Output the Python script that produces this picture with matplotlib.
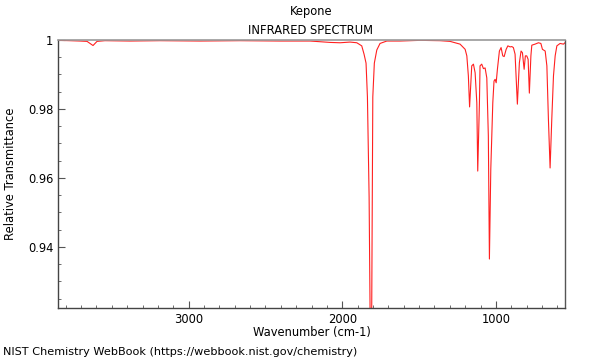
import numpy as np
import matplotlib
matplotlib.use('Agg')
import matplotlib.pyplot as plt
from matplotlib.ticker import MultipleLocator, FuncFormatter

# spectrum (wavenumber cm-1, relative transmittance)
wavenumber = [3850, 3772, 3707, 3661, 3622, 3596, 3544, 3381, 3186, 2925, 2665, 2405,
              2209, 2079, 2014, 1949, 1905, 1873, 1858, 1845, 1836, 1825, 1819, 1814,
              1808, 1801, 1791, 1775, 1754, 1710, 1623, 1493, 1363, 1298, 1233, 1200,
              1189, 1179, 1171, 1157, 1146, 1135, 1124, 1118, 1107, 1103, 1092, 1081,
              1070, 1059, 1049, 1042, 1033, 1020, 1012, 1005, 998, 990, 977, 966,
              955, 946, 933, 922, 907, 896, 886, 875, 860, 847, 836, 827,
              816, 808, 799, 790, 782, 772, 766, 745, 723, 707, 697, 679,
              668, 658, 647, 636, 625, 614, 603, 582, 560, 550]
transmittance = [0.9999, 0.9998, 0.9997, 0.9996, 0.9984, 0.9996, 0.9998, 0.9997, 0.9998,
                 0.9997, 0.9998, 0.9997, 0.9997, 0.9993, 0.9992, 0.9994, 0.9992, 0.9983,
                 0.9959, 0.9933, 0.9835, 0.9545, 0.9226, 0.9130, 0.9226, 0.9835, 0.9933,
                 0.9971, 0.9990, 0.9997, 0.9997, 0.9999, 0.9998, 0.9996, 0.9988, 0.9973,
                 0.9954, 0.9896, 0.9806, 0.9925, 0.9930, 0.9905, 0.9818, 0.9620, 0.9818,
                 0.9925, 0.9930, 0.9917, 0.9919, 0.9890, 0.9722, 0.9365, 0.9626, 0.9818,
                 0.9881, 0.9886, 0.9876, 0.9915, 0.9968, 0.9978, 0.9954, 0.9952, 0.9973,
                 0.9983, 0.9980, 0.9981, 0.9978, 0.9959, 0.9814, 0.9934, 0.9968, 0.9963,
                 0.9915, 0.9954, 0.9954, 0.9944, 0.9846, 0.9954, 0.9985, 0.9988, 0.9992,
                 0.9990, 0.9973, 0.9968, 0.9925, 0.9771, 0.9629, 0.9771, 0.9896, 0.9954,
                 0.9983, 0.9990, 0.9988, 0.9992]

X_TICKS = [1000, 2000, 3000]
Y_TICKS = [0.94, 0.96, 0.98, 1.0]

FS = 8.3
fig = plt.figure(figsize=(6, 3.6), dpi=100)
ax = fig.add_axes([58 / 600, 1 - 308 / 360, (565 - 58) / 600, (308 - 40) / 360])

ax.plot(wavenumber, transmittance, color='#ff2020', linewidth=0.8)

ax.set_xlim(3850, 550)
ax.set_ylim(0.9223, 1.0)
ax.set_xticks(X_TICKS)
ax.xaxis.set_minor_locator(MultipleLocator(100))
ax.set_yticks(Y_TICKS)
ax.yaxis.set_minor_locator(MultipleLocator(0.005))
ax.yaxis.set_major_formatter(FuncFormatter(lambda v, p: f'{v:g}'))
ax.tick_params(which='both', direction='in', labelsize=FS, color='#555555')
ax.tick_params(which='major', length=5)
ax.tick_params(which='minor', length=2.5)

for side, c in [('left', '#444444'), ('bottom', '#444444'), ('top', '#999999'), ('right', '#555555')]:
    ax.spines[side].set_color(c)
    ax.spines[side].set_linewidth(1.2 if side == 'top' else 1.0)

ax.set_xlabel('Wavenumber (cm-1)', fontsize=FS, labelpad=0)
ax.set_ylabel('Relative Transmittance', fontsize=FS)
ax.yaxis.set_label_coords(-0.08, 0.5)

fig.text(311 / 600, 1 - 12 / 360, 'Kepone', ha='center', va='center', fontsize=FS)
fig.text(311 / 600, 1 - 30 / 360, 'INFRARED SPECTRUM', ha='center', va='center', fontsize=FS)
fig.text(3 / 600, 1 - 352 / 360, 'NIST Chemistry WebBook (https://webbook.nist.gov/chemistry)',
         ha='left', va='center', fontsize=8.1)

fig.savefig('out.png', dpi=100)
